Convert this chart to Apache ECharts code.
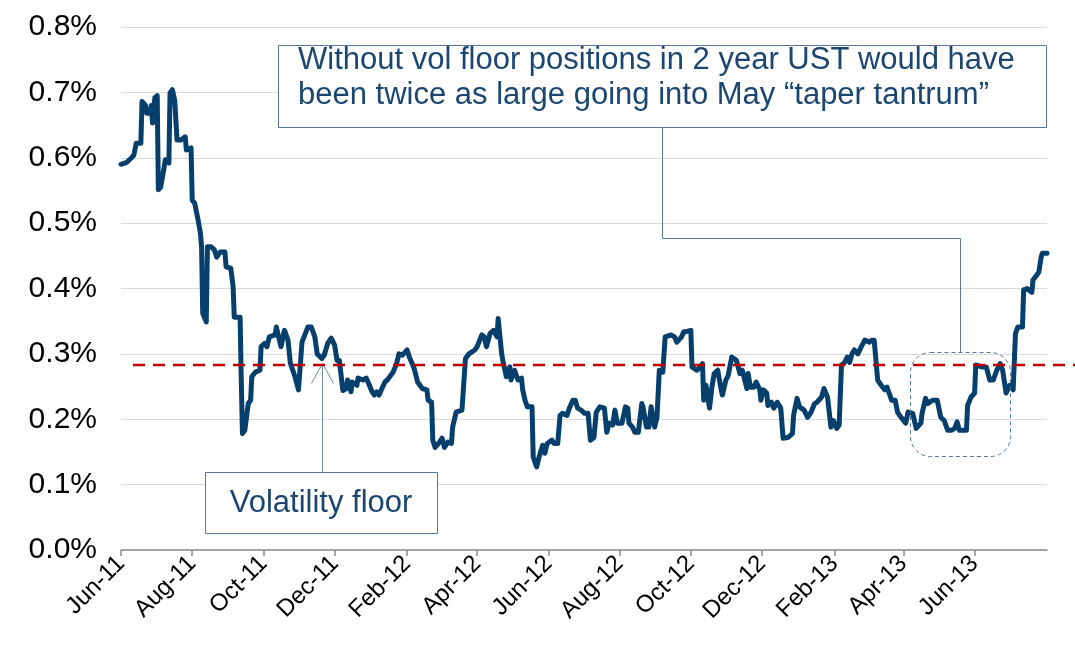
<!DOCTYPE html>
<html>
<head>
    <meta charset="utf-8">
    <script src="https://cdn.jsdelivr.net/npm/echarts@6/dist/echarts.min.js"></script>
    <style>
        html, body { margin: 0; padding: 0; background: #fff; }
        #main { width: 1075px; height: 649px; }
    </style>
</head>
<body>
<div id="main"></div>
<script type="text/javascript">
    // 2y UST realised vol (%)
    var dates = [
        '2011-06-01','2011-06-06','2011-06-10','2011-06-12','2011-06-14','2011-06-18','2011-06-19','2011-06-22','2011-06-23','2011-06-26',
        '2011-06-27','2011-06-28','2011-06-30','2011-07-02','2011-07-03','2011-07-05','2011-07-08','2011-07-09','2011-07-12','2011-07-13',
        '2011-07-15','2011-07-17','2011-07-19','2011-07-22','2011-07-26','2011-07-27','2011-07-31','2011-08-01','2011-08-03','2011-08-06',
        '2011-08-08','2011-08-09','2011-08-10','2011-08-13','2011-08-14','2011-08-17','2011-08-20','2011-08-22','2011-08-25','2011-08-29',
        '2011-08-30','2011-09-03','2011-09-05','2011-09-06','2011-09-11','2011-09-12','2011-09-13','2011-09-15','2011-09-18','2011-09-20',
        '2011-09-21','2011-09-24','2011-09-28','2011-09-29','2011-10-02','2011-10-04','2011-10-06','2011-10-11','2011-10-12','2011-10-14',
        '2011-10-16','2011-10-19','2011-10-22','2011-10-24','2011-10-28','2011-10-31','2011-11-03','2011-11-08','2011-11-11','2011-11-14',
        '2011-11-16','2011-11-20','2011-11-22','2011-11-25','2011-11-28','2011-12-01','2011-12-03','2011-12-05','2011-12-08','2011-12-11',
        '2011-12-12','2011-12-15','2011-12-16','2011-12-20','2011-12-21','2011-12-25','2011-12-28','2011-12-30','2012-01-02','2012-01-04',
        '2012-01-06','2012-01-08','2012-01-10','2012-01-13','2012-01-15','2012-01-20','2012-01-23','2012-01-25','2012-01-28','2012-02-01',
        '2012-02-03','2012-02-07','2012-02-10','2012-02-14','2012-02-18','2012-02-19','2012-02-22','2012-02-23','2012-02-25','2012-02-28',
        '2012-03-02','2012-03-04','2012-03-07','2012-03-10','2012-03-11','2012-03-14','2012-03-19','2012-03-22','2012-03-25','2012-03-30',
        '2012-04-01','2012-04-05','2012-04-07','2012-04-09','2012-04-12','2012-04-15','2012-04-18','2012-04-19','2012-04-22','2012-04-23',
        '2012-04-26','2012-04-29','2012-04-30','2012-05-03','2012-05-06','2012-05-09','2012-05-10','2012-05-12','2012-05-14','2012-05-18',
        '2012-05-19','2012-05-22','2012-05-24','2012-05-27','2012-05-29','2012-05-31','2012-06-04','2012-06-06','2012-06-09','2012-06-11',
        '2012-06-13','2012-06-17','2012-06-19','2012-06-22','2012-06-24','2012-06-26','2012-06-29','2012-07-02','2012-07-05','2012-07-07',
        '2012-07-10','2012-07-12','2012-07-15','2012-07-19','2012-07-21','2012-07-23','2012-07-26','2012-07-28','2012-07-30','2012-08-03',
        '2012-08-06','2012-08-08','2012-08-09','2012-08-12','2012-08-14','2012-08-17','2012-08-20','2012-08-21','2012-08-24','2012-08-26',
        '2012-08-28','2012-08-31','2012-09-02','2012-09-04','2012-09-07','2012-09-09','2012-09-14','2012-09-17','2012-09-19','2012-09-23',
        '2012-09-25','2012-09-27','2012-10-01','2012-10-02','2012-10-06','2012-10-08','2012-10-11','2012-10-12','2012-10-14','2012-10-17',
        '2012-10-19','2012-10-21','2012-10-24','2012-10-27','2012-10-28','2012-10-31','2012-11-02','2012-11-05','2012-11-06','2012-11-09',
        '2012-11-12','2012-11-14','2012-11-18','2012-11-19','2012-11-21','2012-11-24','2012-11-26','2012-11-29','2012-11-30','2012-12-02',
        '2012-12-05','2012-12-06','2012-12-09','2012-12-11','2012-12-14','2012-12-17','2012-12-19','2012-12-23','2012-12-27','2012-12-28',
        '2012-12-31','2013-01-02','2013-01-06','2013-01-09','2013-01-12','2013-01-15','2013-01-17','2013-01-21','2013-01-23','2013-01-26',
        '2013-01-29','2013-01-31','2013-02-03','2013-02-05','2013-02-07','2013-02-09','2013-02-12','2013-02-14','2013-02-16','2013-02-18',
        '2013-02-21','2013-02-24','2013-02-27','2013-03-03','2013-03-05','2013-03-07','2013-03-10','2013-03-13','2013-03-16','2013-03-18',
        '2013-03-22','2013-03-25','2013-03-27','2013-03-30','2013-04-03','2013-04-05','2013-04-09','2013-04-10','2013-04-12','2013-04-16',
        '2013-04-17','2013-04-20','2013-04-22','2013-04-26','2013-04-30','2013-05-03','2013-05-06','2013-05-09','2013-05-12','2013-05-15',
        '2013-05-17','2013-05-19','2013-05-25','2013-05-26','2013-05-29','2013-06-01','2013-06-02','2013-06-07','2013-06-11','2013-06-14',
        '2013-06-17','2013-06-20','2013-06-23','2013-06-25','2013-06-28','2013-07-01','2013-07-04','2013-07-06','2013-07-08','2013-07-12',
        '2013-07-13','2013-07-16','2013-07-20','2013-07-21','2013-07-24','2013-07-26','2013-07-28','2013-07-29','2013-08-02'
    ];
    var vol = [
        0.590,0.593,0.600,0.604,0.622,0.622,0.686,0.680,0.668,0.668,
        0.680,0.653,0.692,0.695,0.551,0.555,0.586,0.597,0.592,0.699,
        0.704,0.688,0.627,0.627,0.632,0.612,0.615,0.535,0.531,0.505,
        0.485,0.464,0.362,0.349,0.464,0.464,0.459,0.448,0.456,0.456,
        0.433,0.431,0.403,0.356,0.356,0.260,0.178,0.183,0.224,0.229,
        0.265,0.272,0.275,0.311,0.316,0.311,0.326,0.329,0.341,0.326,
        0.311,0.336,0.321,0.286,0.265,0.245,0.318,0.341,0.341,0.326,
        0.300,0.293,0.298,0.316,0.324,0.313,0.290,0.290,0.244,0.247,
        0.260,0.242,0.257,0.252,0.263,0.260,0.263,0.255,0.242,0.237,
        0.242,0.237,0.245,0.257,0.260,0.272,0.285,0.300,0.298,0.306,
        0.295,0.278,0.257,0.247,0.245,0.229,0.226,0.168,0.157,0.163,
        0.171,0.157,0.165,0.163,0.188,0.211,0.214,0.293,0.300,0.306,
        0.311,0.329,0.326,0.311,0.331,0.336,0.326,0.354,0.300,0.290,
        0.265,0.280,0.260,0.275,0.260,0.263,0.245,0.229,0.219,0.219,
        0.142,0.127,0.142,0.160,0.148,0.163,0.168,0.163,0.163,0.206,
        0.209,0.206,0.217,0.229,0.229,0.217,0.214,0.209,0.209,0.168,
        0.172,0.211,0.219,0.217,0.180,0.194,0.191,0.214,0.194,0.194,
        0.219,0.217,0.194,0.188,0.180,0.180,0.224,0.219,0.188,0.188,
        0.219,0.188,0.203,0.275,0.272,0.326,0.329,0.326,0.318,0.326,
        0.334,0.334,0.336,0.280,0.275,0.278,0.285,0.229,0.252,0.217,
        0.249,0.270,0.275,0.245,0.237,0.260,0.267,0.295,0.298,0.290,
        0.270,0.275,0.247,0.270,0.249,0.249,0.257,0.245,0.229,0.245,
        0.240,0.221,0.226,0.217,0.226,0.217,0.171,0.172,0.178,0.206,
        0.232,0.219,0.214,0.203,0.211,0.224,0.226,0.234,0.247,0.234,
        0.188,0.198,0.186,0.191,0.283,0.285,0.295,0.287,0.300,0.306,
        0.300,0.311,0.321,0.318,0.321,0.321,0.260,0.252,0.245,0.249,
        0.229,0.229,0.211,0.203,0.194,0.211,0.209,0.211,0.186,0.194,
        0.209,0.232,0.224,0.229,0.229,0.203,0.198,0.183,0.183,0.186,
        0.196,0.183,0.183,0.221,0.234,0.240,0.283,0.280,0.280,0.260,
        0.260,0.275,0.285,0.275,0.240,0.252,0.245,0.331,0.341,0.341,
        0.398,0.400,0.394,0.413,0.420,0.425,0.448,0.454,0.454
    ];
    var tickDates = ['2011-06-01','2011-08-01','2011-10-01','2011-12-01','2012-02-01','2012-04-01','2012-06-01',
        '2012-08-01','2012-10-01','2012-12-01','2013-02-01','2013-04-01','2013-06-01'];
    var axisStart = '2011-06-01';
    var axisEnd = '2013-08-02';
    var floorLevel = 0.283;
    var monthNames = ['Jan','Feb','Mar','Apr','May','Jun','Jul','Aug','Sep','Oct','Nov','Dec'];

    function toTime(s) {
        var p = s.split('-');
        return new Date(+p[0], +p[1] - 1, +p[2]).getTime();
    }

    var seriesData = [];
    for (var i = 0; i < dates.length; i++) {
        seriesData.push([toTime(dates[i]), vol[i]]);
    }
    var tickTimes = tickDates.map(toTime);

    var font = '"Liberation Sans", Arial, sans-serif';
    var navy = '#1B4670';
    var boxLine = '#56779A';

    var myChart = echarts.init(document.getElementById('main'));

    var option = {
        animation: false,
        backgroundColor: '#fff',
        grid: { left: 121, right: 28, top: 27, bottom: 99 },
        xAxis: {
            // plain value axis holding timestamps, so the 2-month ticks can be placed exactly
            type: 'value',
            min: toTime(axisStart),
            max: toTime(axisEnd),
            splitLine: { show: false },
            axisLine: { lineStyle: { color: '#8C8C8C', width: 1.5 } },
            axisTick: {
                show: true,
                customValues: tickTimes,
                length: 6,
                lineStyle: { color: '#8C8C8C', width: 1.5 }
            },
            axisLabel: {
                customValues: tickTimes,
                rotate: 45,
                margin: 10,
                color: '#000',
                fontSize: 24,
                fontFamily: font,
                formatter: function (val) {
                    var d = new Date(val);
                    return monthNames[d.getMonth()] + '-' + String(d.getFullYear()).slice(2);
                }
            }
        },
        yAxis: {
            type: 'value',
            min: 0,
            max: 0.8,
            interval: 0.1,
            axisLine: { show: false },
            axisTick: { show: false },
            splitLine: { lineStyle: { color: '#D9D9D9', width: 1 } },
            axisLabel: {
                color: '#000',
                fontSize: 30,
                fontFamily: font,
                margin: 24,
                formatter: function (v) { return v.toFixed(1) + '%'; }
            }
        },
        series: [
            {
                name: 'vol',
                type: 'line',
                data: seriesData,
                showSymbol: false,
                symbol: 'none',
                lineStyle: { color: '#063E6C', width: 5, join: 'round', cap: 'round' }
            }
        ]
    };

    myChart.setOption(option);

    // annotations
    var fy = myChart.convertToPixel({ yAxisIndex: 0 }, floorLevel);
    var tip = myChart.convertToPixel({ gridIndex: 0 }, [toTime('2011-11-20'), 0.290]);
    var tx = Math.round(tip[0]) + 0.5;
    var ty = tip[1] + 3;

    myChart.setOption({
        graphic: [
            {
                type: 'line', z: 100,
                shape: { x1: 133, y1: fy, x2: 1075, y2: fy },
                style: { stroke: '#C00000', lineWidth: 2.5, lineDash: [12, 8] }
            },
            {
                type: 'rect', z: 90,
                shape: { x: 278.5, y: 45.5, width: 768, height: 82 },
                style: { fill: '#fff', stroke: boxLine, lineWidth: 1 }
            },
            {
                type: 'text', z: 91,
                style: { x: 298, y: 60, text: 'Without vol floor positions in 2 year UST would have',
                    font: '31px ' + font, fill: navy, textVerticalAlign: 'middle' }
            },
            {
                type: 'text', z: 91,
                style: { x: 298, y: 95, text: 'been twice as large going into May \u201ctaper tantrum\u201d',
                    font: '31px ' + font, fill: navy, textVerticalAlign: 'middle' }
            },
            {
                type: 'polyline', z: 90,
                shape: { points: [[662.5, 128], [662.5, 238.5], [960.5, 238.5], [960.5, 352]] },
                style: { fill: 'none', stroke: boxLine, lineWidth: 1 }
            },
            {
                type: 'rect', z: 90,
                shape: { x: 910.5, y: 352.5, width: 100, height: 104, r: 20 },
                style: { fill: 'none', stroke: boxLine, lineWidth: 1, lineDash: [4, 3] }
            },
            {
                type: 'rect', z: 90,
                shape: { x: 205.5, y: 472.5, width: 232, height: 61 },
                style: { fill: '#fff', stroke: boxLine, lineWidth: 1 }
            },
            {
                type: 'text', z: 91,
                style: { x: 321, y: 503, text: 'Volatility floor', font: '31px ' + font, fill: navy,
                    textAlign: 'center', textVerticalAlign: 'middle' }
            },
            {
                type: 'line', z: 90,
                shape: { x1: tx, y1: 472, x2: tx, y2: ty },
                style: { stroke: '#6F8BAA', lineWidth: 1 }
            },
            {
                type: 'polyline', z: 90,
                shape: { points: [[tx - 11, ty + 20], [tx, ty], [tx + 11, ty + 20]] },
                style: { fill: 'none', stroke: '#6F8BAA', lineWidth: 1 }
            }
        ]
    });

    window.onresize = function () {
        myChart.resize();
    };
</script>
</body>
</html>
